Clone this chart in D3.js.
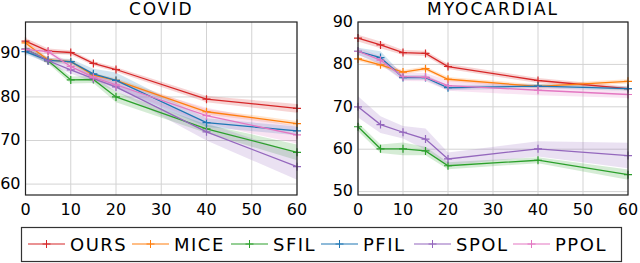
<!DOCTYPE html>
<html><head><meta charset="utf-8">
<script src="https://cdn.jsdelivr.net/npm/d3@7"></script>
<style>
body{margin:0;background:#fff;}
svg{display:block;font-family:"DejaVu Sans",sans-serif;}
</style></head>
<body>
<svg id="c" width="640" height="263"></svg>
<script>
const xs = [0, 5, 10, 15, 20, 40, 60];
const seriesNames = ["OURS", "MICE", "SFIL", "PFIL", "SPOL", "PPOL"];
const colors = ["#d62728", "#ff7f0e", "#2ca02c", "#1f77b4", "#9467bd", "#e377c2"];
const xTicks = [0, 10, 20, 30, 40, 50, 60];

// COVID
const covidOURS = [92.8, 90.5, 90.2, 87.7, 86.3, 79.5, 77.4];
const covidMICE = [92.4, 88.5, 88.1, 85.0, 83.8, 76.6, 73.9];
const covidSFIL = [91.0, 88.3, 83.9, 84.0, 80.0, 72.7, 67.3];
const covidPFIL = [90.4, 88.4, 88.1, 85.3, 83.8, 74.1, 72.2];
const covidSPOL = [91.0, 88.3, 86.2, 84.2, 82.3, 72.0, 64.0];
const covidPPOL = [90.9, 90.4, 87.0, 84.5, 82.8, 75.7, 71.3];
const covidSdOURS = [0.7, 0.6, 0.5, 0.5, 0.5, 0.7, 1.0];
const covidSdMICE = [0.5, 0.5, 0.5, 0.5, 0.5, 0.6, 0.6];
const covidSdSFIL = [0.6, 0.6, 0.8, 0.8, 1.2, 1.0, 1.8];
const covidSdPFIL = [0.6, 0.6, 0.6, 1.2, 1.8, 1.0, 1.0];
const covidSdSPOL = [0.8, 0.8, 0.8, 0.8, 1.0, 2.0, 3.0];
const covidSdPPOL = [0.5, 0.5, 0.6, 0.6, 0.8, 1.8, 2.0];
const covidYTicks = [60, 70, 80, 90];

// MYOCARDIAL
const myoOURS = [86.2, 84.6, 82.8, 82.6, 79.5, 76.2, 74.3];
const myoMICE = [81.3, 79.9, 78.2, 79.0, 76.5, 74.8, 76.0];
const myoSFIL = [65.3, 60.1, 60.1, 59.6, 56.1, 57.4, 54.0];
const myoPFIL = [83.1, 81.6, 76.9, 76.9, 74.5, 74.9, 74.3];
const myoSPOL = [70.0, 65.8, 64.0, 62.4, 57.7, 60.1, 58.5];
const myoPPOL = [83.1, 81.0, 77.1, 77.0, 75.0, 73.9, 72.9];
const myoSdOURS = [0.8, 0.8, 0.6, 0.6, 0.6, 0.6, 0.5];
const myoSdMICE = [0.5, 0.5, 0.5, 0.5, 0.5, 0.5, 0.5];
const myoSdSFIL = [1.0, 1.0, 1.5, 1.0, 0.8, 0.7, 1.2];
const myoSdPFIL = [0.8, 1.5, 0.6, 0.6, 0.6, 0.5, 0.5];
const myoSdSPOL = [2.5, 2.0, 1.5, 2.5, 1.5, 1.8, 3.0];
const myoSdPPOL = [0.8, 1.0, 1.0, 1.0, 1.2, 1.2, 0.8];
const myoYTicks = [50, 60, 70, 80, 90];

const panels = [
  {title: "COVID", means: [covidOURS, covidMICE, covidSFIL, covidPFIL, covidSPOL, covidPPOL],
   sds: [covidSdOURS, covidSdMICE, covidSdSFIL, covidSdPFIL, covidSdSPOL, covidSdPPOL],
   yDomain: [57.5, 97.2], yTicks: covidYTicks, x0: 25.5, x1: 297},
  {title: "MYOCARDIAL", means: [myoOURS, myoMICE, myoSFIL, myoPFIL, myoSPOL, myoPPOL],
   sds: [myoSdOURS, myoSdMICE, myoSdSFIL, myoSdPFIL, myoSdSPOL, myoSdPPOL],
   yDomain: [49.2, 90], yTicks: myoYTicks, x0: 358, x1: 628}
];

const svg = d3.select("#c");
const plotTop = 22, plotBottom = 195;

panels.forEach(p => {
  const x = d3.scaleLinear().domain([0, 60]).range([p.x0, p.x1]);
  const y = d3.scaleLinear().domain(p.yDomain).range([plotBottom, plotTop]);
  const g = svg.append("g");

  // grid
  g.append("g").selectAll("line").data(xTicks).join("line")
    .attr("x1", d => x(d)).attr("x2", d => x(d)).attr("y1", plotTop).attr("y2", plotBottom)
    .attr("stroke", "#d3d3d3").attr("stroke-width", 1);
  g.append("g").selectAll("line").data(p.yTicks).join("line")
    .attr("x1", p.x0).attr("x2", p.x1).attr("y1", d => y(d)).attr("y2", d => y(d))
    .attr("stroke", "#d3d3d3").attr("stroke-width", 1);

  // bands
  p.means.forEach((m, i) => {
    const sd = p.sds[i];
    const area = d3.area().x((d, j) => x(xs[j])).y0((d, j) => y(d - sd[j])).y1((d, j) => y(d + sd[j]));
    g.append("path").datum(m).attr("d", area).attr("fill", colors[i]).attr("fill-opacity", 0.2);
  });
  // lines + markers
  p.means.forEach((m, i) => {
    const line = d3.line().x((d, j) => x(xs[j])).y(d => y(d));
    g.append("path").datum(m).attr("d", line).attr("fill", "none")
      .attr("stroke", colors[i]).attr("stroke-width", 1.3);
    g.append("g").selectAll("path").data(m).join("path")
      .attr("d", (d, j) => {
        const cx = x(xs[j]), cy = y(d), r = 4;
        return `M${cx - r},${cy}H${cx + r}M${cx},${cy - r}V${cy + r}`;
      })
      .attr("stroke", colors[i]).attr("stroke-width", 1.2);
  });

  // frame
  g.append("rect").attr("x", p.x0).attr("y", plotTop).attr("width", p.x1 - p.x0).attr("height", plotBottom - plotTop)
    .attr("fill", "none").attr("stroke", "#222").attr("stroke-width", 1.2);

  // tick labels
  g.append("g").selectAll("text").data(xTicks).join("text")
    .attr("x", d => x(d)).attr("y", 215).attr("text-anchor", "middle")
    .attr("font-size", 16).attr("fill", "#000").text(d => d);
  g.append("g").selectAll("text").data(p.yTicks).join("text")
    .attr("x", p.x0 - 5).attr("y", d => y(d)).attr("dy", "0.3em").attr("text-anchor", "end")
    .attr("font-size", 16).attr("fill", "#000").text(d => d);

  // title
  g.append("text").attr("x", (p.x0 + p.x1) / 2).attr("y", 15).attr("text-anchor", "middle")
    .attr("font-size", 17).attr("letter-spacing", 2).attr("fill", "#000").text(p.title);
});

// legend
const lg = svg.append("g");
lg.append("rect").attr("x", 21.5).attr("y", 227.5).attr("width", 600).attr("height", 34)
  .attr("fill", "#fff").attr("stroke", "#333").attr("stroke-width", 1.2);
const legendLineStart = [28, 132, 231, 321, 414, 513];
seriesNames.forEach((n, i) => {
  const lx = legendLineStart[i], ly = 244;
  lg.append("line").attr("x1", lx).attr("x2", lx + 37).attr("y1", ly).attr("y2", ly)
    .attr("stroke", colors[i]).attr("stroke-width", 1.1);
  const cx = lx + 18.5;
  lg.append("path").attr("d", `M${cx - 4},${ly}H${cx + 4}M${cx},${ly - 4}V${ly + 4}`)
    .attr("stroke", colors[i]).attr("stroke-width", 1);
  lg.append("text").attr("x", lx + 42).attr("y", 250.5).attr("font-size", 18)
    .attr("letter-spacing", 1.5).attr("fill", "#000").text(n);
});
</script>
</body></html>
